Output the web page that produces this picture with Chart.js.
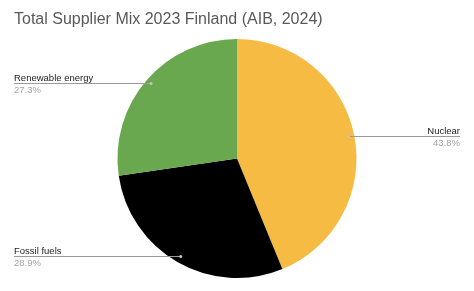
<!DOCTYPE html>
<html>
<head>
<meta charset="utf-8">
<script src="https://cdn.jsdelivr.net/npm/chart.js@4"></script>
<style>
html,body{margin:0;padding:0;background:#fff;}
#wrap{width:474px;height:291px;}
</style>
</head>
<body>
<div id="wrap"><canvas id="c" width="474" height="291"></canvas></div>
<script>
const titleText = "Total Supplier Mix 2023 Finland (AIB, 2024)";
const categories = ["Nuclear", "Fossil fuels", "Renewable energy"];
const values = [43.8, 28.9, 27.3];
const colors = ["#F6BB42", "#000000", "#6AA84F"];

const FONT = "'Liberation Sans', Arial, sans-serif";

const leaderLabels = {
  id: 'leaderLabels',
  afterDatasetsDraw(chart) {
    const ctx = chart.ctx;
    const meta = chart.getDatasetMeta(0);
    const total = values.reduce((a, b) => a + b, 0);
    ctx.save();
    meta.data.forEach((arc, i) => {
      const p = arc.getProps(['x', 'y', 'startAngle', 'endAngle', 'outerRadius'], true);
      const mid = (p.startAngle + p.endAngle) / 2;
      const r = p.outerRadius * 0.95;
      const ax = p.x + Math.cos(mid) * r;
      const ay = p.y + Math.sin(mid) * r;
      const right = Math.cos(mid) >= 0;
      const lx = right ? 460 : 14;
      const ly = Math.round(ay - 1);
      ctx.strokeStyle = '#9a9a9a';
      ctx.lineWidth = 1;
      ctx.beginPath();
      ctx.moveTo(lx, ly + 0.5);
      ctx.lineTo(ax, ly + 0.5);
      ctx.stroke();
      ctx.fillStyle = '#c4c4c4';
      ctx.beginPath();
      ctx.arc(ax, ly + 0.5, 1.5, 0, Math.PI * 2);
      ctx.fill();
      ctx.textAlign = right ? 'right' : 'left';
      ctx.textBaseline = 'alphabetic';
      ctx.font = '9.5px ' + FONT;
      ctx.fillStyle = '#222222';
      ctx.fillText(categories[i], lx, ly - 2);
      ctx.fillStyle = '#a3a3a3';
      const pct = (values[i] / total * 100).toFixed(1) + '%';
      ctx.fillText(pct, lx, ly + 10);
    });
    ctx.restore();
  }
};

new Chart(document.getElementById('c'), {
  type: 'pie',
  data: {
    labels: categories,
    datasets: [{
      data: values,
      backgroundColor: colors,
      borderWidth: 0
    }]
  },
  options: {
    responsive: false,
    animation: false,
    layout: { padding: { left: 14, right: 14, top: 0, bottom: 13 } },
    plugins: {
      legend: { display: false },
      tooltip: { enabled: false },
      title: {
        display: true,
        text: titleText,
        align: 'start',
        color: '#595959',
        font: { family: FONT, size: 16, weight: 'normal', lineHeight: 1.2 },
        padding: { top: 10, bottom: 9.8 }
      }
    }
  },
  plugins: [leaderLabels]
});
</script>
</body>
</html>
